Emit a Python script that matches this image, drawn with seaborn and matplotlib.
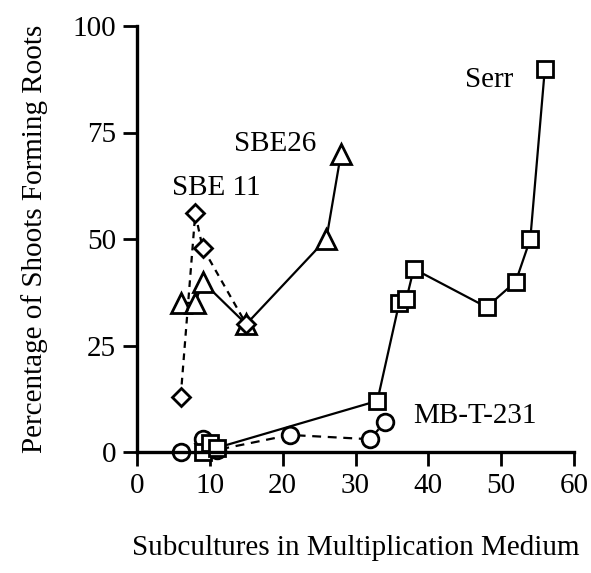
import matplotlib
matplotlib.use("Agg")
import matplotlib.pyplot as plt
import seaborn as sns
import pandas as pd

# Data
serr_x = [9, 10, 11, 33, 36, 37, 38, 48, 52, 54, 56]
serr_y = [0, 2, 1, 12, 35, 36, 43, 34, 40, 50, 90]

mbt_x = [6, 9, 11, 21, 32, 34]
mbt_y = [0, 3, 0.5, 4, 3, 7]

sbe26_x = [6, 8, 9, 15, 26, 28]
sbe26_y = [35, 35, 40, 30, 50, 70]

sbe11_x = [6, 8, 9, 15]
sbe11_y = [13, 56, 48, 30]

x_ticks = [0, 10, 20, 30, 40, 50, 60]
y_ticks = [0, 25, 50, 75, 100]

sns.set_theme(style="ticks")
plt.rcParams['font.family'] = ['Liberation Serif', 'DejaVu Serif']
plt.rcParams['text.color'] = 'black'
plt.rcParams['axes.labelcolor'] = 'black'

FS = 21

fig = plt.figure(figsize=(5.91, 5.73), dpi=100)
ax = fig.add_axes([137/591, 1 - 452/573, (574 - 137)/591, (452 - 26)/573])

common = dict(color='black', linewidth=1.6, markerfacecolor='white',
              markeredgecolor='black', markeredgewidth=2.0, clip_on=False,
              estimator=None, sort=False, legend=False)

sns.lineplot(x=mbt_x, y=mbt_y, ax=ax, marker='o', markersize=12, **common)
ax.lines[-1].set_dashes([4, 3])
sns.lineplot(x=serr_x, y=serr_y, ax=ax, marker='s', markersize=12, **common)
sns.lineplot(x=sbe26_x, y=sbe26_y, ax=ax, marker='^', markersize=14, **common)
sns.lineplot(x=sbe11_x, y=sbe11_y, ax=ax, marker='D', markersize=9, **common)
ax.lines[-1].set_dashes([3, 2.5])

ax.set_xlim(0, 60)
ax.set_ylim(0, 100)
ax.set_xticks(x_ticks)
ax.set_yticks(y_ticks)
ax.tick_params(axis='both', direction='out', length=10, width=2,
               labelsize=FS, color='black', labelcolor='black', pad=5)
for s in ['top', 'right']:
    ax.spines[s].set_visible(False)
for s in ['left', 'bottom']:
    ax.spines[s].set_linewidth(2.4)
    ax.spines[s].set_color('black')

ax.set_xlabel('Subcultures in Multiplication Medium', fontsize=FS, labelpad=26)
ax.set_ylabel('Percentage of Shoots Forming Roots', fontsize=FS, labelpad=18)

ax.text(48.3, 87.3, 'Serr', fontsize=FS, ha='center', va='center')
ax.text(19.0, 72.3, 'SBE26', fontsize=FS, ha='center', va='center')
ax.text(10.9, 62.0, 'SBE 11', fontsize=FS, ha='center', va='center')
ax.text(46.4, 8.5, 'MB-T-231', fontsize=FS, ha='center', va='center')

fig.savefig('out.png', dpi=100, facecolor='white')
